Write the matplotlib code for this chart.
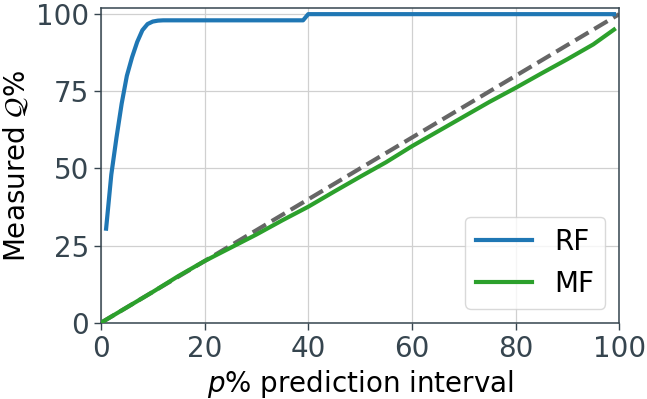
import matplotlib
matplotlib.use("Agg")
import matplotlib.pyplot as plt

# RF calibration curve
rf_x = [1, 2, 3, 4, 5, 6, 7, 8, 9, 10, 11, 12, 20, 30, 39, 40, 50, 60, 70, 80, 90, 99]
rf_y = [30.5, 48, 60, 71, 80, 86, 91, 94.8, 96.8, 97.6, 97.9, 98, 98, 98, 98, 100, 100, 100, 100, 100, 100, 100]

# MF calibration curve
mf_x = [0, 5, 10, 15, 20, 25, 30, 35, 40, 45, 50, 55, 60, 65, 70, 75, 80, 85, 90, 95, 99]
mf_y = [0, 5, 10, 15.2, 20, 24.3, 28.6, 33.2, 37.6, 42.5, 47.3, 52, 57.2, 62, 66.8, 71.6, 76.1, 80.8, 85.4, 90.2, 95]

ideal = [0, 100]

xticks = [0, 20, 40, 60, 80, 100]
yticks = [0, 25, 50, 75, 100]

tick_color = "#36454f"

fig = plt.figure(figsize=(6.47, 3.99), dpi=100)
ax = fig.add_axes([0.156, 0.191, 0.801, 0.789])

ax.grid(True, color="#d0d0d0", linewidth=0.9, zorder=0)
ax.set_axisbelow(True)

ax.plot(ideal, ideal, linestyle="--", color="#666666", linewidth=3, zorder=2)
ax.plot(rf_x, rf_y, color="#1f77b4", linewidth=3, label="RF", zorder=3)
ax.plot(mf_x, mf_y, color="#2ca02c", linewidth=3, label="MF", zorder=3)

ax.set_xlim(0, 100)
ax.set_ylim(0, 102)
ax.set_xticks(xticks)
ax.set_yticks(yticks)
ax.tick_params(axis="both", labelsize=20, colors=tick_color, length=5, width=1)
for s in ax.spines.values():
    s.set_color(tick_color)
    s.set_linewidth(1.1)

ax.set_xlabel(r"$p$% prediction interval", fontsize=20)
ax.set_ylabel(r"Measured $\mathcal{Q}$%", fontsize=20)

leg = ax.legend(loc="lower right", fontsize=20, handlelength=2.0)
leg.get_frame().set_edgecolor("#d0d0d0")

fig.savefig("out.png", dpi=100)
